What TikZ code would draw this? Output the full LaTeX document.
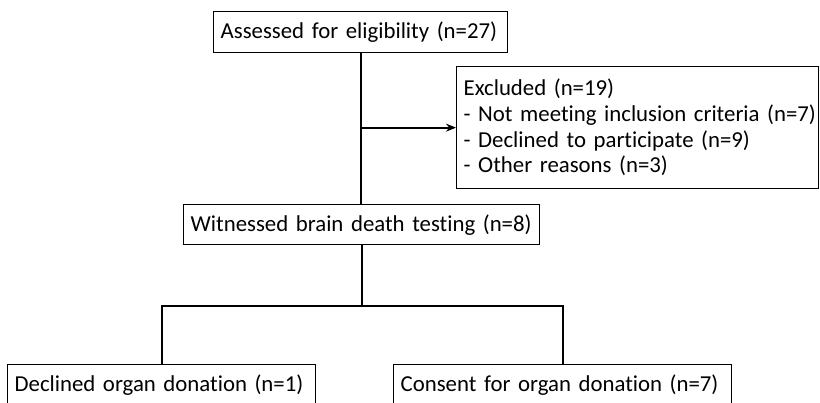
\documentclass[tikz,border=0pt]{standalone}
\usepackage{fontspec}
\setmainfont{Carlito}[Ligatures={NoCommon}]
\usetikzlibrary{arrows.meta}
% one unbreakable line of box text
\newcommand{\boxline}[1]{\mbox{#1}}
\begin{document}
\begin{tikzpicture}[x=1pt,y=-1pt,
  box/.style={draw=black, line width=1.3pt, rectangle, inner xsep=7pt, inner ysep=0pt,
    align=left, anchor=north west, font=\fontsize{22.8}{25.7}\selectfont},
  link/.style={draw=black, line width=1.9pt},
  arrowlink/.style={link, -{Stealth[length=10pt,width=8pt]}}]
\useasboundingbox (0,0) rectangle (820,402);

% boxes of the flow chart
\node[box, text width=280pt, minimum height=41pt] (assess) at (213,11)
  {\boxline{Assessed for eligibility (n=27)}};
\node[box, text width=348pt, minimum height=122pt] (excl) at (456,66)
  {\boxline{Excluded (n=19)}\\
   \boxline{- Not meeting inclusion criteria (n=7)}\\
   \boxline{- Declined to participate (n=9)}\\
   \boxline{- Other reasons (n=3)}};
\node[box, text width=342pt, minimum height=40pt] (witness) at (183,204)
  {\boxline{Witnessed brain death testing (n=8)}};
\node[box, text width=294pt, minimum height=40pt] (declined) at (7,364)
  {\boxline{Declined organ donation (n=1)}};
\node[box, text width=324pt, minimum height=40pt] (consent) at (393,364)
  {\boxline{Consent for organ donation (n=7)}};

% connectors
\draw[link] (assess.south) -- (assess.south |- witness.north);
\coordinate (brk) at (assess.south |- excl.west);
\draw[arrowlink] (brk) -- (excl.west);
\coordinate (fork) at ([yshift=-61pt]witness.south);
\draw[link] (witness.south) -- (fork);
\draw[link] (declined.north) |- (fork) -| (consent.north);
\end{tikzpicture}
\end{document}
